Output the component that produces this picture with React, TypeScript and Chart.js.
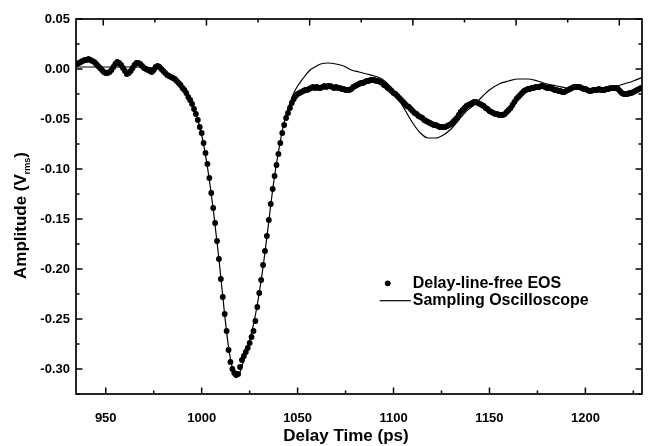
import React, { useEffect, useRef } from "react";
import { Chart, registerables } from "chart.js";

Chart.register(...registerables);

// ---- axis ranges / tick labels ----
const X_MIN = 934.5;
const X_MAX = 1229.5;
const Y_MIN = -0.325;
const Y_MAX = 0.05;
const X_STEP = 50;
const Y_STEP = 0.05;
// the top frame axis of the scanned figure carries its own (offset) tick ruler
const TOP_AXIS_MIN = 936.8;
const TOP_AXIS_MAX = 1211.0;

const X_TITLE = "Delay Time (ps)";
const Y_TITLE_MAIN = "Amplitude (V";
const Y_TITLE_SUB = "rms";
const Y_TITLE_END = ")";

const EOS_LABEL = "Delay-line-free EOS";
const OSC_LABEL = "Sampling Oscilloscope";

// ---- Delay-line-free EOS: one sample per ps starting at 935 ps ----
const eosStart = 935;
const eosStep = 1;
const eosAmplitude = [
  0.005, 0.006, 0.007, 0.008, 0.009, 0.009, 0.010, 0.009, 0.008, 0.007,
  0.005, 0.003, 0.001, -0.001, -0.003, -0.004, -0.004, -0.003, -0.001, 0.002,
  0.005, 0.007, 0.006, 0.004, 0.001, -0.002, -0.005, -0.004, -0.002, 0.001,
  0.004, 0.006, 0.006, 0.005, 0.003, 0.001, 0.000, -0.001, -0.002, -0.003,
  -0.001, 0.002, 0.003, 0.002, 0.000, -0.002, -0.004, -0.006, -0.007, -0.008,
  -0.009, -0.010, -0.012, -0.014, -0.016, -0.019, -0.021, -0.024, -0.028, -0.031,
  -0.035, -0.040, -0.045, -0.051, -0.058, -0.064, -0.074, -0.084, -0.095, -0.109,
  -0.124, -0.139, -0.154, -0.172, -0.190, -0.210, -0.228, -0.245, -0.262, -0.281,
  -0.293, -0.300, -0.304, -0.306, -0.305, -0.298, -0.291, -0.287, -0.283, -0.279,
  -0.274, -0.268, -0.262, -0.252, -0.238, -0.224, -0.211, -0.196, -0.182, -0.167,
  -0.151, -0.135, -0.120, -0.107, -0.096, -0.085, -0.074, -0.064, -0.056, -0.049,
  -0.044, -0.039, -0.034, -0.030, -0.027, -0.025, -0.024, -0.023, -0.022, -0.021,
  -0.021, -0.020, -0.019, -0.018, -0.019, -0.018, -0.019, -0.019, -0.018, -0.017,
  -0.018, -0.017, -0.017, -0.018, -0.019, -0.018, -0.019, -0.019, -0.020, -0.020,
  -0.021, -0.021, -0.021, -0.020, -0.018, -0.017, -0.016, -0.015, -0.014, -0.014,
  -0.013, -0.012, -0.012, -0.011, -0.011, -0.011, -0.012, -0.012, -0.013, -0.014,
  -0.016, -0.017, -0.019, -0.020, -0.022, -0.024, -0.025, -0.027, -0.029, -0.031,
  -0.033, -0.035, -0.037, -0.038, -0.040, -0.042, -0.044, -0.045, -0.047, -0.048,
  -0.049, -0.051, -0.052, -0.053, -0.054, -0.055, -0.056, -0.056, -0.057, -0.058,
  -0.058, -0.058, -0.058, -0.057, -0.056, -0.055, -0.053, -0.051, -0.049, -0.046,
  -0.043, -0.041, -0.039, -0.037, -0.036, -0.035, -0.034, -0.033, -0.033, -0.034,
  -0.035, -0.036, -0.037, -0.039, -0.040, -0.042, -0.043, -0.044, -0.045, -0.045,
  -0.046, -0.046, -0.046, -0.045, -0.043, -0.041, -0.039, -0.036, -0.033, -0.030,
  -0.028, -0.026, -0.024, -0.022, -0.021, -0.020, -0.020, -0.019, -0.019, -0.018,
  -0.018, -0.018, -0.017, -0.017, -0.018, -0.019, -0.019, -0.019, -0.020, -0.021,
  -0.021, -0.022, -0.022, -0.023, -0.023, -0.022, -0.021, -0.020, -0.019, -0.018,
  -0.018, -0.018, -0.018, -0.019, -0.020, -0.020, -0.021, -0.022, -0.022, -0.021,
  -0.021, -0.021, -0.020, -0.021, -0.021, -0.021, -0.020, -0.020, -0.019, -0.019,
  -0.019, -0.019, -0.020, -0.022, -0.024, -0.025, -0.025, -0.025, -0.024, -0.024,
  -0.023, -0.022, -0.021, -0.020, -0.019,
];

// ---- Sampling oscilloscope trace ----
const oscTime = [
  935, 945, 955, 965, 975, 980, 985, 988, 991, 994, 997, 1000, 1003, 1006,
  1009, 1012, 1014, 1016, 1018, 1020, 1022, 1024, 1026, 1028, 1030, 1032,
  1034, 1036, 1038, 1040, 1042, 1044, 1046, 1048, 1050, 1053, 1056, 1059,
  1062, 1066, 1070, 1074, 1078, 1082, 1086, 1090, 1094, 1098, 1102, 1106,
  1110, 1114, 1118, 1122, 1126, 1130, 1134, 1138, 1142, 1146, 1150, 1155,
  1160, 1165, 1170, 1175, 1180, 1185, 1190, 1195, 1200, 1205, 1210, 1215,
  1220, 1225, 1230,
];
const oscAmplitude = [
  0.002, 0.002, 0.002, 0.002, 0.001, -0.002, -0.008, -0.013, -0.020, -0.030,
  -0.045, -0.066, -0.098, -0.140, -0.190, -0.246, -0.278, -0.299, -0.308,
  -0.303, -0.291, -0.279, -0.264, -0.246, -0.224, -0.198, -0.168, -0.136,
  -0.107, -0.083, -0.062, -0.046, -0.034, -0.024, -0.017, -0.009, -0.002,
  0.002, 0.005, 0.006, 0.005, 0.003, -0.001, -0.003, -0.005, -0.007, -0.010,
  -0.017, -0.028, -0.041, -0.054, -0.064, -0.069, -0.069, -0.066, -0.060,
  -0.051, -0.042, -0.036, -0.028, -0.021, -0.015, -0.012, -0.010, -0.010,
  -0.012, -0.015, -0.017, -0.019, -0.020, -0.020, -0.020, -0.020, -0.018,
  -0.015, -0.012, -0.008,
];

const FONT_FAMILY = "'Liberation Sans', Arial, Helvetica, sans-serif";

function fmtY(v: number): string {
  const r = Math.round(v * 100) / 100;
  return (Math.abs(r) < 1e-9 ? 0 : r).toFixed(2);
}

function fmtX(v: number): string {
  return String(Math.round(v));
}

const framePlugin = {
  id: "frameAndDecor",
  afterDraw(chart: any) {
    const { ctx, chartArea: a, scales } = chart;
    const xs = scales.x;
    const ys = scales.y;
    const xt = scales.xTop;
    ctx.save();
    ctx.strokeStyle = "#000";
    ctx.fillStyle = "#000";

    // frame
    ctx.lineWidth = 1.7;
    ctx.strokeRect(a.left, a.top, a.right - a.left, a.bottom - a.top);

    const MAJ = 6.5;
    const MIN = 3.5;
    ctx.lineWidth = 1.5;
    const seg = (x1: number, y1: number, x2: number, y2: number) => {
      ctx.beginPath();
      ctx.moveTo(x1, y1);
      ctx.lineTo(x2, y2);
      ctx.stroke();
    };
    const withMinors = (scale: any, step: number, lo: number, hi: number) => {
      const out: { v: number; major: boolean }[] = [];
      const vals = scale.ticks.map((t: any) => t.value);
      vals.forEach((v: number) => out.push({ v, major: true }));
      vals.forEach((v: number) => {
        const m = v + step / 2;
        if (m >= lo && m <= hi) out.push({ v: m, major: false });
      });
      if (vals.length) {
        const m0 = vals[0] - step / 2;
        if (m0 >= lo) out.push({ v: m0, major: false });
      }
      return out;
    };

    // bottom axis ticks (inward)
    withMinors(xs, X_STEP, X_MIN, X_MAX).forEach(({ v, major }) => {
      const px = xs.getPixelForValue(v);
      seg(px, a.bottom, px, a.bottom - (major ? MAJ : MIN));
    });
    // top axis ticks (inward)
    if (xt) {
      withMinors(xt, X_STEP, TOP_AXIS_MIN, TOP_AXIS_MAX).forEach(({ v, major }) => {
        const px = xt.getPixelForValue(v);
        seg(px, a.top, px, a.top + (major ? MAJ : MIN));
      });
    }
    // left & right axis ticks (inward)
    withMinors(ys, Y_STEP, Y_MIN - 1e-9, Y_MAX + 1e-9).forEach(({ v, major }) => {
      const py = ys.getPixelForValue(v);
      const L = major ? MAJ : MIN;
      seg(a.left, py, a.left + L, py);
      seg(a.right, py, a.right - L, py);
    });

    // legend (inside plot)
    const legendFont = `bold 16px ${FONT_FAMILY}`;
    ctx.font = legendFont;
    ctx.textBaseline = "middle";
    ctx.textAlign = "left";
    const lx = xs.getPixelForValue(1110);
    const row1 = ys.getPixelForValue(-0.2143);
    const row2 = ys.getPixelForValue(-0.2317);
    ctx.beginPath();
    ctx.arc(lx - 25, row1, 2.9, 0, Math.PI * 2);
    ctx.fill();
    ctx.fillText(chart.data.datasets[0].label, lx, row1);
    ctx.lineWidth = 1.2;
    seg(lx - 33, row2, lx - 2, row2);
    ctx.fillText(chart.data.datasets[1].label, lx, row2);

    // x title
    ctx.font = `bold 17px ${FONT_FAMILY}`;
    ctx.textAlign = "center";
    ctx.textBaseline = "alphabetic";
    ctx.fillText(X_TITLE, (a.left + a.right) / 2 - 13, 441);

    // y title (rotated with subscript)
    const mainFont = `bold 17px ${FONT_FAMILY}`;
    const subFont = `bold 9px ${FONT_FAMILY}`;
    ctx.font = mainFont;
    const w1 = ctx.measureText(Y_TITLE_MAIN).width;
    const w3 = ctx.measureText(Y_TITLE_END).width;
    ctx.font = subFont;
    const w2 = ctx.measureText(Y_TITLE_SUB).width;
    const total = w1 + w2 + w3;
    ctx.translate(26, (a.top + a.bottom) / 2 + 9);
    ctx.rotate(-Math.PI / 2);
    let cx = -total / 2;
    ctx.textAlign = "left";
    ctx.font = mainFont;
    ctx.fillText(Y_TITLE_MAIN, cx, 0);
    cx += w1;
    ctx.font = subFont;
    ctx.fillText(Y_TITLE_SUB, cx, 4);
    cx += w2;
    ctx.font = mainFont;
    ctx.fillText(Y_TITLE_END, cx, 0);

    ctx.restore();
  },
};

export default function App() {
  const canvasRef = useRef<HTMLCanvasElement | null>(null);

  useEffect(() => {
    document.body.style.margin = "0";
    const canvas = canvasRef.current;
    if (!canvas) return;

    const eosPoints = eosAmplitude.map((v, i) => ({ x: eosStart + i * eosStep, y: v }));
    const oscPoints = oscTime.map((t, i) => ({ x: t, y: oscAmplitude[i] }));

    const chart = new Chart(canvas, {
      type: "scatter",
      data: {
        datasets: [
          {
            label: EOS_LABEL,
            data: eosPoints,
            showLine: false,
            pointRadius: 2.9,
            pointBackgroundColor: "#000",
            pointBorderWidth: 0,
            order: 2,
          },
          {
            label: OSC_LABEL,
            data: oscPoints,
            showLine: true,
            borderColor: "#000",
            borderWidth: 1.2,
            pointRadius: 0,
            cubicInterpolationMode: "monotone",
            order: 1,
          } as any,
        ],
      },
      options: {
        responsive: false,
        animation: false,
        devicePixelRatio: 1,
        layout: { padding: { left: 0, right: 6, top: 19, bottom: 0 } },
        plugins: {
          legend: { display: false },
          tooltip: { enabled: false },
        },
        scales: {
          x: {
            type: "linear",
            position: "bottom",
            min: X_MIN,
            max: X_MAX,
            grid: { display: false, drawTicks: false },
            border: { display: false },
            ticks: {
              stepSize: X_STEP,
              includeBounds: false,
              padding: 17,
              color: "#000",
              font: { family: FONT_FAMILY, size: 13, weight: "bold" },
              maxRotation: 0,
              callback: (v: any) => fmtX(Number(v)),
            },
            afterFit: (s: any) => {
              s.height = 52;
            },
          },
          xTop: {
            type: "linear",
            position: "top",
            min: TOP_AXIS_MIN,
            max: TOP_AXIS_MAX,
            grid: { display: false, drawTicks: false },
            border: { display: false },
            ticks: { stepSize: X_STEP, includeBounds: false, display: false },
            afterFit: (s: any) => {
              s.height = 0;
            },
          },
          y: {
            type: "linear",
            min: Y_MIN,
            max: Y_MAX,
            grid: { display: false, drawTicks: false },
            border: { display: false },
            ticks: {
              stepSize: Y_STEP,
              includeBounds: false,
              padding: 6,
              color: "#000",
              font: { family: FONT_FAMILY, size: 13, weight: "bold" },
              callback: (v: any) => fmtY(Number(v)),
            },
            afterFit: (s: any) => {
              s.width = 76;
            },
          },
        },
      } as any,
      plugins: [framePlugin],
    });

    return () => chart.destroy();
  }, []);

  return (
    <div style={{ width: 648, height: 446, background: "#fff" }}>
      <canvas ref={canvasRef} width={648} height={446} style={{ display: "block" }} />
    </div>
  );
}
